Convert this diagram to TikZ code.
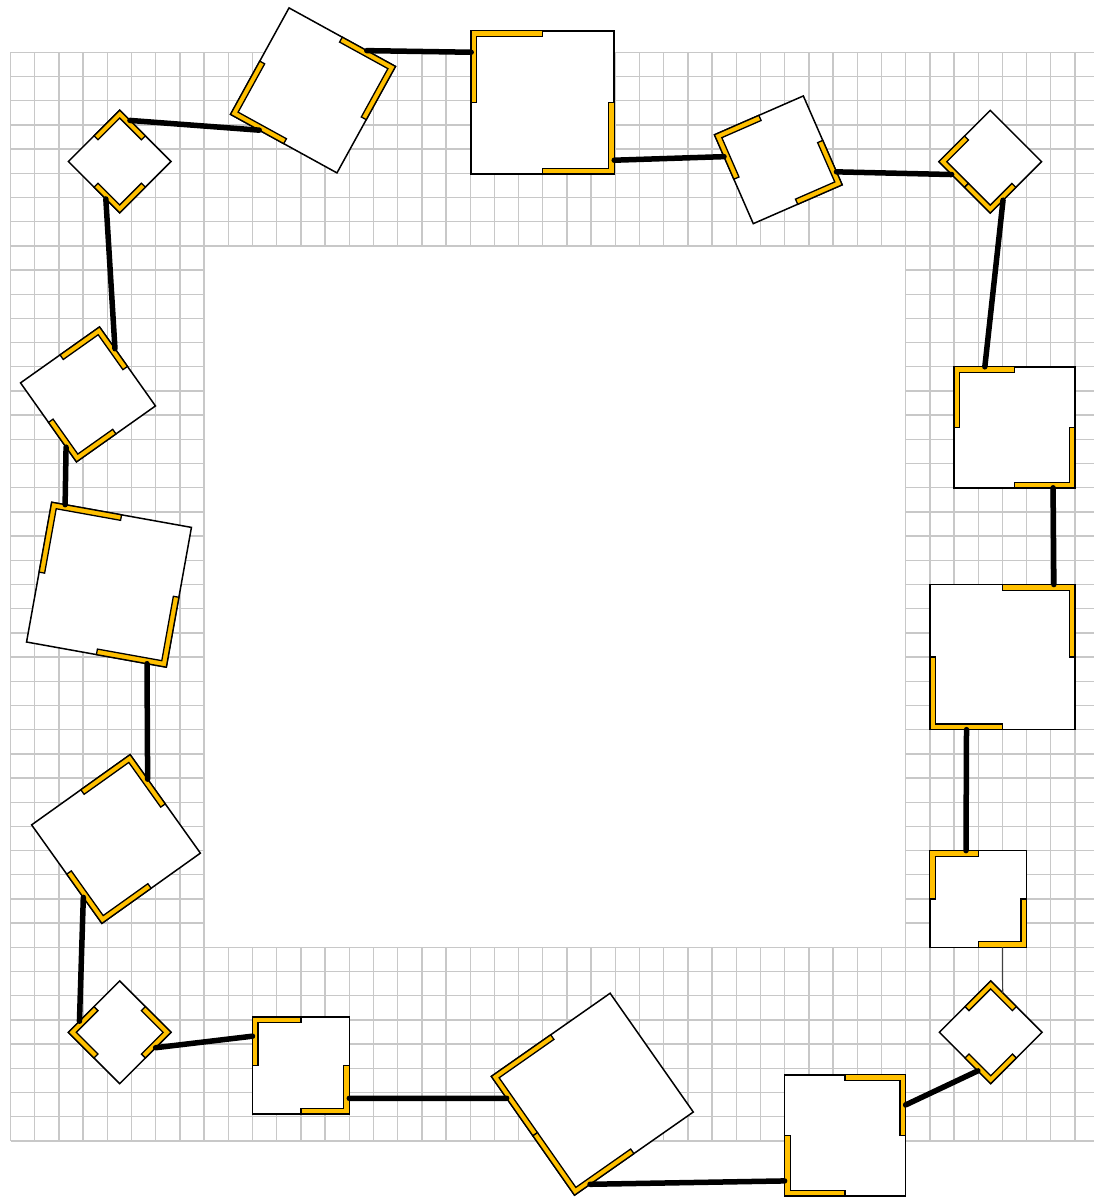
\documentclass[tikz,border=0pt]{standalone}
\usetikzlibrary{calc}
\definecolor{lyel}{HTML}{FFC000}
\definecolor{gridg}{HTML}{C8C8C8}
\tikzset{
  boxnode/.style={draw=black, line width=1.5pt, fill=white, rectangle, inner sep=0pt, outer sep=0pt, minimum size=#1},
  lmark/.style={draw=black, line width=1.3pt, fill=lyel, line join=miter},
  link/.style={draw=black, line width=5.5pt, line cap=round},
  thinlink/.style={draw=black!75, line width=1.2pt},
  gridline/.style={draw=gridg, line width=1.4pt}
}
% name, cx, cy, side, clockwise angle, corner list (sx/sy)
\newcommand\qbox[6]{%
  \begin{scope}[shift={(#2,#3)}, rotate={-1*(#5)}, transform shape]
    \node[boxnode=#4pt] (#1) at (0,0) {};
    \pgfmathsetmacro\Lh{#4/2}
    \pgfmathsetmacro\Lt{5.6}
    \foreach \sx/\sy in {#6} {
      \draw[lmark] ({\sx*\Lh},{\sy*\Lh}) -- (0,{\sy*\Lh}) -- (0,{\sy*(\Lh-\Lt)})
        -- ({\sx*(\Lh-\Lt)},{\sy*(\Lh-\Lt)}) -- ({\sx*(\Lh-\Lt)},0) -- ({\sx*\Lh},0) -- cycle;
    }
  \end{scope}}
\begin{document}
\begin{tikzpicture}[x=1pt,y=-1pt]
\useasboundingbox (0,0) rectangle (1094,1197);
% grid ring
\foreach \i in {0,...,8} {
  \draw[gridline] ({10.6+24.19*\i},52.3) -- ({10.6+24.19*\i},1140.8);
  \draw[gridline] (10.6,{52.3+24.19*\i}) -- (1099.2,{52.3+24.19*\i});
}
\foreach \i in {37,...,45} {
  \draw[gridline] ({10.6+24.19*\i},52.3) -- ({10.6+24.19*\i},1140.8);
  \draw[gridline] (10.6,{52.3+24.19*\i}) -- (1099.2,{52.3+24.19*\i});
}
\foreach \i in {9,...,36} {
  \draw[gridline] ({10.6+24.19*\i},52.3) -- ({10.6+24.19*\i},245.8);
  \draw[gridline] ({10.6+24.19*\i},947.3) -- ({10.6+24.19*\i},1140.8);
  \draw[gridline] (10.6,{52.3+24.19*\i}) -- (204.1,{52.3+24.19*\i});
  \draw[gridline] (905.6,{52.3+24.19*\i}) -- (1099.2,{52.3+24.19*\i});
}
% boxes
\qbox{b1}{119.7}{161.5}{72.6}{45}{-1/-1,1/1}
\qbox{b2}{313}{90.4}{121.5}{28.8}{1/-1,-1/1}
\qbox{b3}{542.7}{102.3}{143}{0}{-1/-1,1/1}
\qbox{b4}{778.3}{159.8}{97}{-23.6}{-1/-1,1/1}
\qbox{b5}{990.2}{161.7}{72.6}{45}{-1/1,1/1}
\qbox{b6}{1014.6}{427.3}{121}{0}{-1/-1,1/1}
\qbox{b7}{1002.5}{657.1}{145.1}{0}{1/-1,-1/1}
\qbox{b8}{978.2}{899}{96.8}{0}{-1/-1,1/1}
\qbox{b9}{990.7}{1032.3}{72.6}{45}{-1/-1,1/1}
\qbox{b10}{845.1}{1135.3}{121}{0}{1/-1,-1/1}
\qbox{b11}{592.3}{1094.2}{145}{-35}{-1/-1,-1/1}
\qbox{b12}{300.9}{1065.4}{96.8}{0}{-1/-1,1/1}
\qbox{b13}{119.7}{1032.3}{72.6}{45}{1/-1,-1/1}
\qbox{b14}{116}{839}{121}{-35.5}{1/-1,-1/1}
\qbox{b15}{109}{584.7}{142}{10.2}{-1/-1,1/1}
\qbox{b16}{88}{394.4}{96.8}{-35.3}{1/-1,-1/1}
% connectors
\draw[link] ($(b1.north west)!0.2!(b1.north east)$) -- ($(b2.south west)!0.27!(b2.south east)$);
\draw[link] ($(b2.north west)!0.73!(b2.north east)$) -- ($(b3.north west)!0.15!(b3.south west)$);
\draw[link] ($(b3.north east)!0.905!(b3.south east)$) -- ($(b4.north west)!0.246!(b4.south west)$);
\draw[link] ($(b4.north east)!0.854!(b4.south east)$) -- ($(b5.south west)!0.25!(b5.south east)$);
\draw[link] ($(b5.south east)!0.25!(b5.north east)$) -- ($(b6.north west)!0.254!(b6.north east)$);
\draw[link] ($(b6.south west)!0.818!(b6.south east)$) -- ($(b7.north west)!0.854!(b7.north east)$);
\draw[link] ($(b7.south west)!0.252!(b7.south east)$) -- ($(b8.north west)!0.374!(b8.north east)$);
\draw[thinlink] ($(b8.south west)!0.75!(b8.south east)$) -- ($(b9.north west)!0.233!(b9.north east)$);
\draw[link] ($(b9.south west)!0.75!(b9.south east)$) -- ($(b10.north east)!0.249!(b10.south east)$);
\draw[link] ($(b10.north west)!0.877!(b10.south west)$) -- ($(b11.south west)!0.131!(b11.south east)$);
\draw[link] ($(b11.north west)!0.184!(b11.south west)$) -- ($(b12.north east)!0.84!(b12.south east)$);
\draw[link] ($(b12.north west)!0.198!(b12.south west)$) -- ($(b13.south east)!0.70!(b13.north east)$);
\draw[link] ($(b13.south west)!0.216!(b13.north west)$) -- ($(b14.north west)!0.736!(b14.south west)$);
\draw[link] ($(b14.north east)!0.249!(b14.south east)$) -- ($(b15.south west)!0.862!(b15.south east)$);
\draw[link] ($(b15.north west)!0.096!(b15.north east)$) -- ($(b16.north west)!0.814!(b16.south west)$);
\draw[link] ($(b16.north east)!0.276!(b16.south east)$) -- ($(b1.south west)!0.73!(b1.south east)$);
\end{tikzpicture}
\end{document}
